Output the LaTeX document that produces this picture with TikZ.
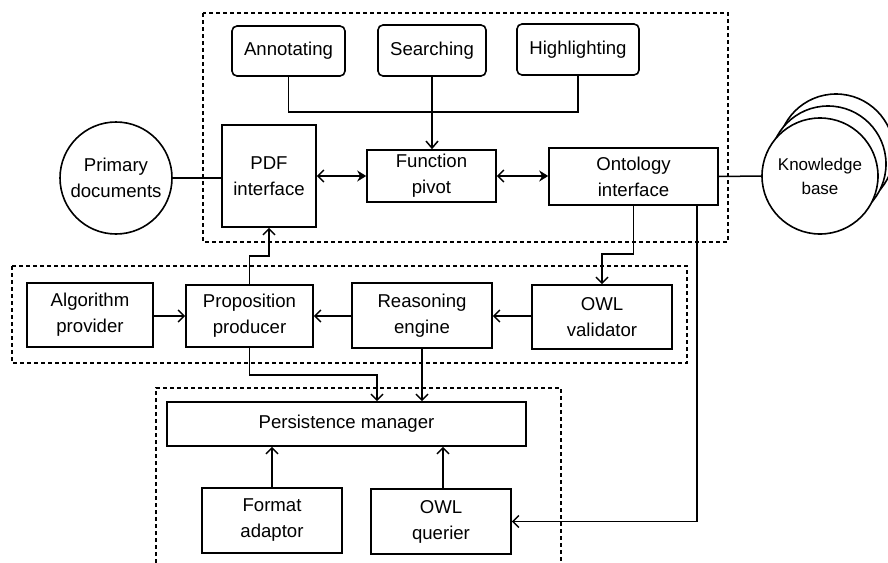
\documentclass[tikz,border=0pt]{standalone}
\usepackage{fontspec}
\setmainfont{Liberation Sans}
\usetikzlibrary{arrows.meta}
\begin{document}
\begin{tikzpicture}[x=1pt,y=-1pt,
  every node/.style={font=\fontsize{18.6}{26}\selectfont, align=center, inner sep=0pt},
  box/.style={draw, line width=1.6pt, rectangle},
  rbox/.style={box, rounded corners=5pt},
  circ/.style={draw, line width=1.6pt, circle, fill=white},
  grp/.style={draw, line width=1.4pt, dash pattern=on 4pt off 3pt},
  conn/.style={line width=1.5pt},
  arr/.style={conn, -{Straight Barb[length=6pt,width=12pt]}},
  darr/.style={conn, {Straight Barb[length=6pt,width=12pt]}-{Stealth[length=9pt,width=11pt]}},
  sarr/.style={conn, -{Straight Barb[length=7pt,width=12pt]}}
]
\useasboundingbox (0,0) rectangle (888,562);
\begin{scope}
\clip (0,0) rectangle (888,562);
% groups
\draw[grp] (203,13) rectangle (728,242);
\draw[grp] (12,266) rectangle (687,363);
\draw[grp] (156,570) -- (156,388) -- (561,388) -- (561,570);

% top group
\node[rbox, minimum width=113pt, minimum height=50pt] (annot) at (288.5,51) {Annotating};
\node[rbox, minimum width=108pt, minimum height=51pt] (search) at (432,50.5) {Searching};
\node[rbox, minimum width=122pt, minimum height=51pt] (highl) at (578,49.5) {Highlighting};
\node[box, minimum width=94pt, minimum height=102pt] (pdf) at (269,176) {PDF\\interface};
\node[box, minimum width=129pt, minimum height=52pt] (func) at (431.5,176) {Function\\pivot};
\node[box, minimum width=169pt, minimum height=57pt] (onto) at (633.5,176.5) {Ontology\\interface};

\node[circ, minimum size=112pt] (prim) at (116,178) {Primary\\documents};
\node[circ, minimum size=116pt] (kb3) at (836,152) {};
\node[circ, minimum size=116pt] (kb2) at (828,164) {};
\node[circ, minimum size=116pt, font=\fontsize{17}{24}\selectfont] (kb) at (820,176) {Knowledge\\base};

% middle group
\node[box, minimum width=126pt, minimum height=64pt] (algo) at (90,315) {Algorithm\\provider};
\node[box, minimum width=127pt, minimum height=62pt] (prop) at (249.5,316) {Proposition\\producer};
\node[box, minimum width=140pt, minimum height=65pt] (reas) at (422,315.5) {Reasoning\\engine};
\node[box, minimum width=140pt, minimum height=64pt] (owlv) at (602,317) {OWL\\validator};

% bottom group
\node[box, minimum width=359pt, minimum height=44pt] (pers) at (346.5,424) {Persistence manager};
\node[box, minimum width=140pt, minimum height=65pt] (fmt) at (272,520.5) {Format\\adaptor};
\node[box, minimum width=140pt, minimum height=65pt] (owlq) at (441,521.5) {OWL\\querier};

% connectors
\coordinate (jn) at (432,112);
\draw[conn] (annot.south) |- (jn) -| (highl.south);
\draw[sarr] (search.south) -- (search.south |- func.north);
\draw[conn] (prim.east) -- (pdf.west |- prim.east);
\draw[darr] (pdf.east |- func.west) -- (func.west);
\draw[darr] (func.east) -- (onto.west |- func.east);
\draw[conn] (onto.east) -- (kb.west);

\draw[arr] (onto.south) -- ++(0,48) -| (owlv.north);
\coordinate (qx) at (697,0);
\draw[arr] (onto.south -| qx) |- (owlq.east);

\draw[arr] (algo.east |- prop.west) -- (prop.west);
\draw[arr] (reas.west |- prop.east) -- (prop.east);
\draw[arr] (owlv.west |- prop.east) -- (reas.east |- prop.east);

\draw[arr] (prop.north) -- ++(0,-28) -| (pdf.south);
\coordinate (px) at (377,0);
\draw[arr] (prop.south) -- ++(0,27) -| (pers.north -| px);
\draw[arr] (reas.south) -- (reas.south |- pers.north);
\draw[arr] (fmt.north) -- (fmt.north |- pers.south);
\coordinate (ox) at (443,0);
\draw[arr] (owlq.north -| ox) -- (pers.south -| ox);
\end{scope}
\end{tikzpicture}
\end{document}
